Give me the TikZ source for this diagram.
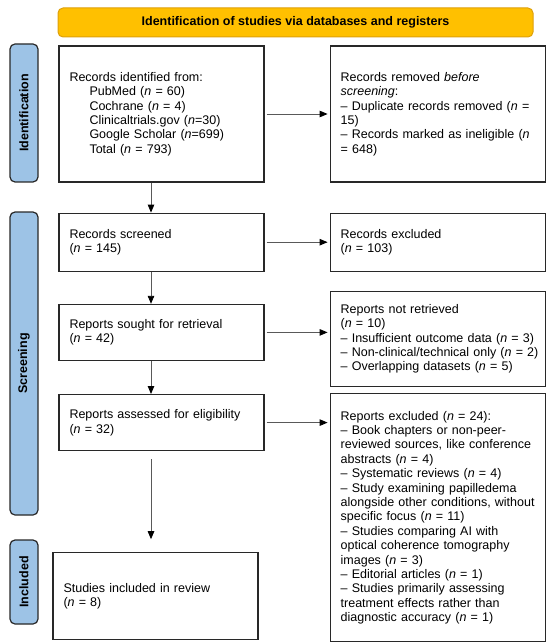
\documentclass[tikz,border=0pt]{standalone}
\usepackage{fontspec}
\setmainfont{Liberation Sans}
\usepackage{tikz}
\usetikzlibrary{positioning, arrows.meta, calc}
\usepackage{xcolor}
\definecolor{bannerfill}{RGB}{255,192,0}
\definecolor{bannerline}{RGB}{222,160,10}
\definecolor{phasefill}{RGB}{157,195,230}
\definecolor{boxline}{RGB}{40,40,40}
\newcommand{\itn}{\textit{n}}

\begin{document}
\begin{tikzpicture}[x=1pt, y=-1pt, >={Triangle[length=8pt, width=6.5pt, color=black]},
        font=\fontsize{12.5}{14.4}\selectfont,
        recbox/.style={draw=boxline, line width=1.2pt, inner xsep=10.5pt, inner ysep=0pt, align=left},
        leftbox/.style={recbox, text width=184pt, minimum height=#1},
        rightbox/.style={recbox, text width=194pt, minimum height=#1},
        phase/.style={draw=boxline, line width=1.2pt, fill=phasefill, rounded corners=5pt,
          minimum width=28pt, inner sep=0pt, font=\fontsize{12.5}{14.4}\selectfont\bfseries},
        flow/.style={->, draw=black!65, line width=0.9pt}]
      \useasboundingbox (0,0) rectangle (550,644);
      % Encabezado
      \node[draw=bannerline, line width=1pt, fill=bannerfill, rounded corners=5pt,
        minimum width=475pt, minimum height=29pt, font=\fontsize{12.5}{14.4}\selectfont\bfseries]
        (head) at (295.5,22.5) {Identification of studies via databases and registers};
      % Fases
      \node[phase, minimum height=138pt] (phid) at (24,113) {\rotatebox{90}{Identification}};
      \node[phase, minimum height=303pt] (phscr) at (24,363.5) {\rotatebox{90}{Screening}};
      \node[phase, minimum height=84pt] (phinc) at (24,582) {\rotatebox{90}{Included}};
      % Columna principal
      \node[leftbox=136pt] (ident) at (161.5,114) {Records identified from:\\
        \hspace*{20pt}PubMed (\itn{} = 60)\\
        \hspace*{20pt}Cochrane (\itn{} = 4)\\
        \hspace*{20pt}Clinicaltrials.gov (\itn=30)\\
        \hspace*{20pt}Google Scholar (\itn=699)\\
        \hspace*{20pt}Total (\itn{} = 793)};
      \node[leftbox=58pt, below=30pt of ident] (screened) {Records screened\\(\itn{} = 145)};
      \node[leftbox=56pt, below=32pt of screened] (sought) {Reports sought for retrieval\\(\itn{} = 42)};
      \node[leftbox=56pt, below=33pt of sought] (assessed) {Reports assessed for eligibility\\(\itn{} = 32)};
      \node[leftbox=87pt, below=101pt of assessed, xshift=-6pt] (included) {Studies included in review\\(\itn{} = 8)};
      % Columna de exclusiones
      \node[rightbox=136pt, right=65pt of ident] (removed) {Records removed \textit{before}\\
        \textit{screening}:\\
        \mbox{-- Duplicate records removed (\itn{} =}\\
        15)\\
        \mbox{-- Records marked as ineligible (\itn}\\
        = 648)};
      \node[rightbox=58pt, right=65pt of screened] (excluded) {Records excluded\\(\itn{} = 103)};
      \node[rightbox=95pt, below=19pt of excluded] (notret) {Reports not retrieved\\
        (\itn{} = 10)\\
        \mbox{-- Insufficient outcome data (\itn{} = 3)}\\
        \mbox{-- Non-clinical/technical only (\itn{} = 2)}\\
        -- Overlapping datasets (\itn{} = 5)};
      \node[rightbox=248pt, below=6pt of notret] (repexcl) {Reports excluded (\itn{} = 24):\\
        \mbox{-- Book chapters or non-peer-}\\
        \mbox{reviewed sources, like conference}\\
        abstracts (\itn{} = 4)\\
        -- Systematic reviews (\itn{} = 4)\\
        -- Study examining papilledema\\
        \mbox{alongside other conditions, without}\\
        specific focus (\itn{} = 11)\\
        -- Studies comparing AI with\\
        optical coherence tomography\\
        images (\itn{} = 3)\\
        -- Editorial articles (\itn{} = 1)\\
        -- Studies primarily assessing\\
        treatment effects rather than\\
        diagnostic accuracy (\itn{} = 1)};
      % Flechas
      \draw[flow] ([xshift=-10.5pt]ident.south) -- ([xshift=-10.5pt]screened.north);
      \draw[flow] ([xshift=-10.5pt]screened.south) -- ([xshift=-10.5pt]sought.north);
      \draw[flow] ([xshift=-10.5pt]sought.south) -- ([xshift=-10.5pt]assessed.north);
      \draw[flow, shorten <=8pt, shorten >=13pt] ([xshift=-10.5pt]assessed.south) -- ([xshift=-10.5pt]assessed.south |- included.north);
      \draw[flow, shorten <=2pt, shorten >=2pt] (ident.east) -- (ident.east -| removed.west);
      \draw[flow, shorten <=2pt, shorten >=2pt] (screened.east) -- (screened.east -| excluded.west);
      \draw[flow, shorten <=2pt, shorten >=2pt] (sought.east) -- (sought.east -| notret.west);
      \draw[flow, shorten <=2pt, shorten >=2pt] (assessed.east) -- (assessed.east -| repexcl.west);
    \end{tikzpicture}
\end{document}
